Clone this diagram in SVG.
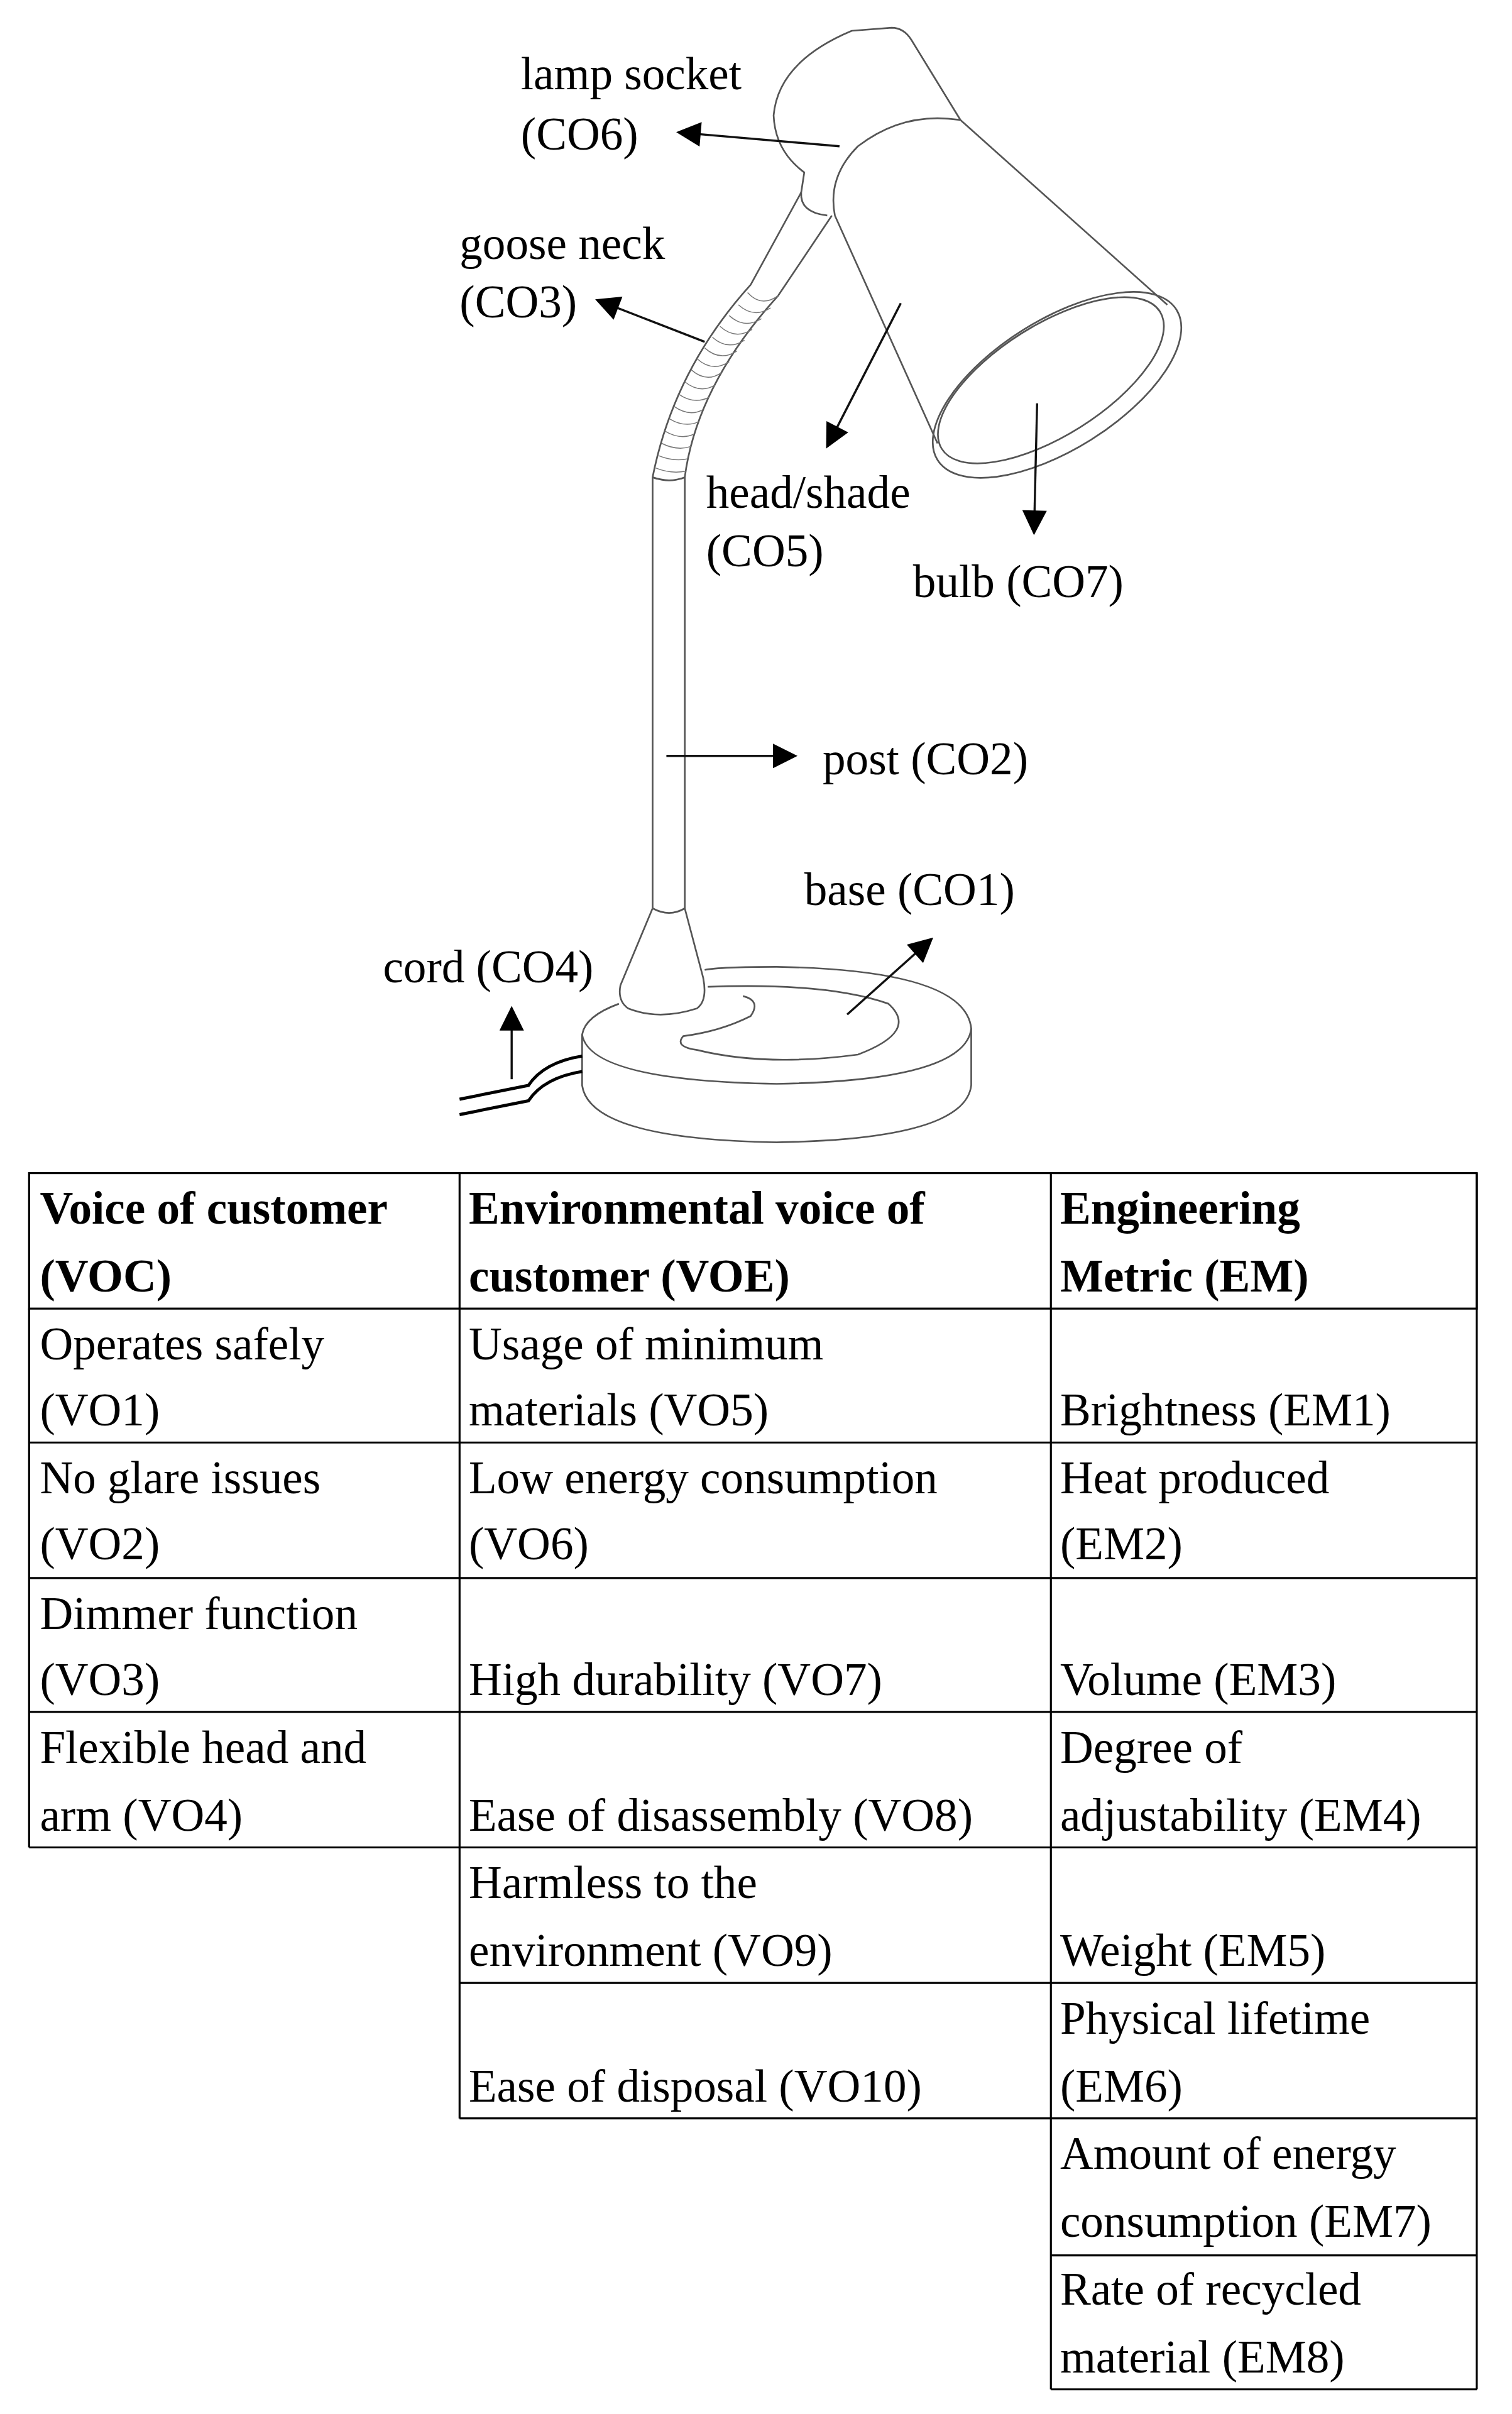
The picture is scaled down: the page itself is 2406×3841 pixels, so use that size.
<svg xmlns="http://www.w3.org/2000/svg" width="2406" height="3841" viewBox="0 0 2406 3841">
<style>
text{font-family:'Liberation Serif','Times New Roman',Tinos,'DejaVu Serif',serif;font-size:30px;fill:#000}
.b{font-weight:bold}
.d{fill:none;stroke:#555;stroke-width:1.1;stroke-linejoin:round}
.a{fill:none;stroke:#111;stroke-width:1.4}
.g{fill:none;stroke:#000;stroke-width:1.3}
.r{fill:none;stroke:#777;stroke-width:0.6}
</style>
<defs>
<marker id="ah" viewBox="0 0 10 10" refX="9" refY="5" markerWidth="18" markerHeight="16" markerUnits="userSpaceOnUse" orient="auto"><path d="M0,0 L10,5 L0,10 z" fill="#000"/></marker>
</defs>
<rect width="2406" height="3841" fill="#fff"/>
<g transform="scale(2.4377 2.4496)">
<g id="lamp">
<path class="d" d="M523,125 L525,112 Q506,98 505,75 Q508,40 556,20 L582,18 Q590,18 595,26 L627,78"/>
<path class="d" d="M627,78 Q590,72 560,95 Q540,115 545,140"/>
<path class="d" d="M627,78 L762,198"/>
<path class="d" d="M545,140 L612,288"/>
<ellipse class="d" cx="690" cy="250" rx="92" ry="42" transform="rotate(-32 690 250)"/>
<ellipse class="d" cx="686" cy="247" rx="84" ry="36" transform="rotate(-32 686 247)"/>
<path class="d" d="M523,125 Q522,138 540,140"/>
<path class="d" d="M523,125 L490,185 Q440,240 426,310 L426,590"/>
<path class="d" d="M543,140 L508,192 Q455,250 447,310 L447,590"/>
<g class="r">
<path d="M488,190 Q497,200 508,192"/><path d="M482,198 Q492,207 503,200"/><path d="M476,205 Q486,214 497,207"/><path d="M470,212 Q480,221 491,214"/><path d="M465,219 Q475,228 486,221"/><path d="M460,226 Q470,235 481,228"/><path d="M455,233 Q465,242 476,235"/><path d="M451,240 Q461,249 471,242"/><path d="M447,248 Q457,256 467,250"/><path d="M443,256 Q453,263 463,258"/><path d="M440,264 Q450,271 459,266"/><path d="M437,272 Q447,278 456,274"/><path d="M434,280 Q444,286 453,282"/><path d="M432,288 Q442,293 451,290"/><path d="M430,296 Q440,300 449,298"/><path d="M428,304 Q438,308 448,306"/>
</g>
<path class="d" d="M426,310 Q437,314 447,310"/>
<path class="d" d="M426,590 Q437,596 447,590 L459,635 Q462,650 455,655 Q430,663 410,655 Q403,650 405,640 L426,590"/>
<path class="d" d="M404,652 Q382,660 380,672 L380,705 Q385,740 507,742 Q630,740 634,705 L634,668 Q630,630 507,628 Q470,628 460,630"/>
<path class="d" d="M380,672 Q385,702 507,704 Q630,702 634,668"/>
<path class="d" d="M462,641 Q540,638 580,652 Q600,670 560,685 Q500,693 455,682 Q440,680 446,673 Q470,670 490,660 Q497,650 485,647"/>
<path d="M300,714 Q330,708 345,705 Q355,690 380,686" fill="none" stroke="#000" stroke-width="2"/>
<path d="M300,724 Q330,718 345,715 Q355,700 380,696" fill="none" stroke="#000" stroke-width="2"/>
</g>
<g id="connectors">
<line class="a" x1="548" y1="95" x2="443" y2="86" marker-end="url(#ah)"/>
<line class="a" x1="460" y1="222" x2="390" y2="195" marker-end="url(#ah)"/>
<line class="a" x1="588" y1="197" x2="540" y2="290" marker-end="url(#ah)"/>
<line class="a" x1="677" y1="262" x2="675" y2="346" marker-end="url(#ah)"/>
<line class="a" x1="435" y1="491" x2="519" y2="491" marker-end="url(#ah)"/>
<line class="a" x1="553" y1="659" x2="608" y2="610" marker-end="url(#ah)"/>
<line class="a" x1="334" y1="701" x2="334" y2="655" marker-end="url(#ah)"/>
</g>
<g id="labels">
<text x="340" y="58">lamp socket</text><text x="340" y="97">(CO6)</text>
<text x="300" y="168">goose neck</text><text x="300" y="206">(CO3)</text>
<text x="461" y="330">head/shade</text><text x="461" y="368">(CO5)</text>
<text x="596" y="388">bulb (CO7)</text>
<text x="537" y="503">post (CO2)</text>
<text x="525" y="588">base (CO1)</text>
<text x="250" y="638">cord (CO4)</text>
</g>
<g id="table">
<g class="g">
<rect x="19" y="762" width="945" height="88"/>
<line x1="300" y1="762" x2="300" y2="1376"/>
<line x1="686" y1="762" x2="686" y2="1552"/>
<line x1="964" y1="762" x2="964" y2="1552"/>
<line x1="19" y1="850" x2="19" y2="1200"/>
<line x1="19" y1="937" x2="964" y2="937"/>
<line x1="19" y1="1025" x2="964" y2="1025"/>
<line x1="19" y1="1112" x2="964" y2="1112"/>
<line x1="19" y1="1200" x2="964" y2="1200"/>
<line x1="300" y1="1288" x2="964" y2="1288"/>
<line x1="300" y1="1376" x2="964" y2="1376"/>
<line x1="686" y1="1465" x2="964" y2="1465"/>
<line x1="686" y1="1552" x2="964" y2="1552"/>
</g>
<text class="b" x="26" y="795">Voice of customer</text><text class="b" x="26" y="839">(VOC)</text>
<text class="b" x="306" y="795">Environmental voice of</text><text class="b" x="306" y="839">customer (VOE)</text>
<text class="b" x="692" y="795">Engineering</text><text class="b" x="692" y="839">Metric (EM)</text>
<text x="26" y="883">Operates safely</text><text x="26" y="926">(VO1)</text>
<text x="306" y="883">Usage of minimum</text><text x="306" y="926">materials (VO5)</text>
<text x="692" y="926">Brightness (EM1)</text>
<text x="26" y="970">No glare issues</text><text x="26" y="1013">(VO2)</text>
<text x="306" y="970">Low energy consumption</text><text x="306" y="1013">(VO6)</text>
<text x="692" y="970">Heat produced</text><text x="692" y="1013">(EM2)</text>
<text x="26" y="1058">Dimmer function</text><text x="26" y="1101">(VO3)</text>
<text x="306" y="1101">High durability (VO7)</text>
<text x="692" y="1101">Volume (EM3)</text>
<text x="26" y="1145">Flexible head and</text><text x="26" y="1189">arm (VO4)</text>
<text x="306" y="1189">Ease of disassembly (VO8)</text>
<text x="692" y="1145">Degree of</text><text x="692" y="1189">adjustability (EM4)</text>
<text x="306" y="1233">Harmless to the</text><text x="306" y="1277">environment (VO9)</text>
<text x="692" y="1277">Weight (EM5)</text>
<text x="306" y="1365">Ease of disposal (VO10)</text>
<text x="692" y="1321">Physical lifetime</text><text x="692" y="1365">(EM6)</text>
<text x="692" y="1409">Amount of energy</text><text x="692" y="1453">consumption (EM7)</text>
<text x="692" y="1497">Rate of recycled</text><text x="692" y="1541">material (EM8)</text>
</g>
</g>
</svg>
